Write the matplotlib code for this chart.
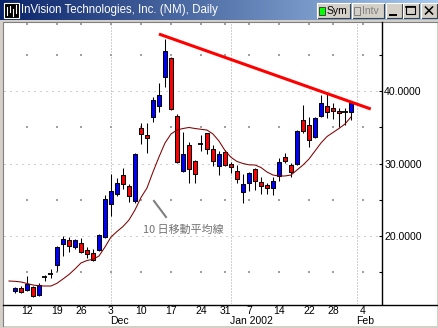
import matplotlib
matplotlib.use("Agg")
import matplotlib.pyplot as plt
from matplotlib.patches import Rectangle
from matplotlib import transforms
import numpy as np

# ---------------- data ----------------
calendar = [
    "2001-11-07", "2001-11-08", "2001-11-09", "2001-11-12", "2001-11-13", "2001-11-14",
    "2001-11-15", "2001-11-16", "2001-11-19", "2001-11-20", "2001-11-21", "2001-11-23",
    "2001-11-26", "2001-11-27", "2001-11-28", "2001-11-29", "2001-11-30",
    "2001-12-03", "2001-12-04", "2001-12-05", "2001-12-06", "2001-12-07", "2001-12-10",
    "2001-12-11", "2001-12-12", "2001-12-13", "2001-12-14", "2001-12-17", "2001-12-18",
    "2001-12-19", "2001-12-20", "2001-12-21", "2001-12-24", "2001-12-26", "2001-12-27",
    "2001-12-28", "2001-12-31",
    "2002-01-02", "2002-01-03", "2002-01-04", "2002-01-07", "2002-01-08", "2002-01-09",
    "2002-01-10", "2002-01-11", "2002-01-14", "2002-01-15", "2002-01-16", "2002-01-17",
    "2002-01-18", "2002-01-22", "2002-01-23", "2002-01-24", "2002-01-25", "2002-01-28",
    "2002-01-29", "2002-01-30", "2002-01-31",
    "2002-02-01", "2002-02-04",
]
candle_dates = calendar[1:58]
ma_dates = calendar[0:58]

opens = [12.41, 12.87, 12.55, 12.97, 11.90, 14.39, 14.80, 16.00, 18.85, 19.45,
         18.44, 19.08, 18.07, 17.61, 18.07, 19.90, 24.41, 25.79, 28.37, 26.94,
         24.87, 34.86, 33.89, 36.37, 37.97, 41.97, 44.51, 36.55, 29.01, 32.55,
         30.34, 32.65, 34.17, 31.96, 29.66, 31.63, 29.93, 29.01, 26.11, 27.27,
         29.20, 27.45, 27.00, 26.58, 28.28, 30.85, 29.86, 29.89, 36.00, 35.31,
         33.61, 36.55, 37.93, 37.61, 37.24, 37.06, 37.06]
highs = [13.01, 13.10, 14.52, 13.10, 13.56, 14.62, 15.41, 18.62, 20.00, 19.82,
         19.54, 19.77, 18.48, 18.25, 20.28, 25.66, 28.55, 28.00, 29.38, 27.17,
         31.41, 35.54, 35.54, 39.21, 41.06, 47.17, 44.65, 36.83, 34.39, 33.01,
         30.48, 33.93, 34.25, 32.55, 31.77, 31.86, 30.25, 29.79, 28.51, 28.87,
         29.42, 28.18, 27.27, 28.18, 30.72, 31.41, 30.11, 34.65, 38.07, 36.45,
         36.45, 39.45, 39.68, 38.39, 37.61, 37.61, 38.66]
lows = [12.18, 12.18, 12.45, 11.63, 11.72, 13.79, 14.17, 15.21, 17.24, 17.83,
        18.25, 17.61, 16.97, 16.62, 17.93, 19.77, 22.80, 25.56, 26.52, 24.73,
        24.59, 32.65, 31.49, 35.77, 37.14, 40.51, 37.38, 30.03, 28.87, 27.27,
        27.27, 31.77, 31.27, 29.65, 28.37, 29.66, 28.65, 27.31, 24.59, 26.21,
        26.34, 25.79, 25.79, 25.66, 27.63, 30.03, 28.18, 29.79, 34.17, 32.32,
        33.48, 36.45, 36.23, 36.10, 35.08, 35.31, 36.00]
closes = [12.87, 12.28, 13.34, 11.77, 13.20, 14.39, 14.80, 18.44, 19.59, 18.62,
          19.45, 17.75, 17.48, 16.72, 20.20, 25.06, 26.17, 27.27, 27.21, 25.48,
          31.27, 34.11, 33.48, 38.72, 39.45, 45.52, 37.48, 30.25, 31.31, 29.20,
          28.51, 32.65, 31.96, 30.39, 31.27, 29.75, 29.48, 27.82, 27.13, 28.65,
          27.63, 26.94, 26.62, 27.63, 30.17, 30.39, 28.83, 34.55, 34.48, 33.24,
          36.23, 38.30, 37.06, 37.28, 36.92, 37.06, 38.39]
ma10 = [13.79, 13.75, 13.66, 13.45, 13.24, 13.13, 13.10, 13.10, 13.48, 14.07,
        14.69, 15.45, 16.28, 16.62, 16.79, 17.24, 18.48, 19.86, 20.62, 21.31,
        22.21, 23.59, 25.31, 26.62, 28.83, 30.90, 32.83, 34.07, 34.62, 34.83,
        34.97, 34.83, 34.72, 34.62, 34.07, 33.10, 31.79, 30.86, 30.28, 30.00,
        29.82, 29.79, 29.45, 28.83, 28.41, 28.28, 28.28, 28.41, 29.10, 29.79,
        30.62, 31.72, 32.83, 33.72, 34.28, 34.83, 35.45, 36.41]

week_dates = ["2001-11-12", "2001-11-19", "2001-11-26", "2001-12-03", "2001-12-10",
              "2001-12-17", "2001-12-24", "2001-12-31", "2002-01-07", "2002-01-14",
              "2002-01-22", "2002-01-28", "2002-02-04"]
week_labels = ["12", "19", "26", "3", "10", "17", "24", "31", "7", "14", "22", "28", "4"]
month_dates = ["2001-12-03", "2002-01-02", "2002-02-01"]
month_labels = ["Dec", "Jan 2002", "Feb"]
y_major = [20, 30, 40]
y_minor = [15, 25, 35, 45]

trend_x = [25.0, 60.3]      # resistance line (calendar positions)
trend_y = [47.86, 37.52]
title = "InVision Technologies, Inc. (NM), Daily"
ma_label = "10 日移動平均線"

# ---------------- figure ----------------
W, H = 439, 328
fig = plt.figure(figsize=(W / 100, H / 100), dpi=100)
fig.patch.set_facecolor("#d4d0c8")

bg = fig.add_axes([0, 0, 1, 1], zorder=0)
bg.axis("off")

# title bar gradient
grad = np.linspace(0, 1, 256)
c0 = np.array([10, 36, 106]) / 255
c1 = np.array([166, 202, 240]) / 255
img = (c0[None, :] * (1 - grad[:, None]) + c1[None, :] * grad[:, None])[None, :, :]
bg.imshow(img, extent=(0, W, 20, 0), aspect="auto", interpolation="bilinear", zorder=1)
bg.set_xlim(0, W)
bg.set_ylim(H, 0)

# icon
bg.add_patch(Rectangle((4, 3), 15, 15, facecolor="black", edgecolor="white", lw=0.8, zorder=2))
for xx, y0, y1 in [(7, 7, 15), (10, 6, 12), (13, 9, 16), (16, 5, 13)]:
    bg.plot([xx, xx], [y0, y1], color="white", lw=0.8, zorder=3)
bg.text(21.5, 10.5, title, color="white", fontsize=8.3, family="Liberation Sans",
        va="center", ha="left", zorder=3)

def button(x0, x1, y0=3, y1=18):
    bg.add_patch(Rectangle((x0, y0), x1 - x0, y1 - y0, facecolor="#d4d0c8",
                           edgecolor="none", zorder=2))
    bg.plot([x0, x1, x1], [y1, y1, y0], color="#404040", lw=0.8, zorder=3)
    bg.plot([x0, x0, x1], [y1, y0, y0], color="white", lw=0.8, zorder=3)

button(317, 350)
bg.add_patch(Rectangle((319.5, 6.5), 6, 8, facecolor="#00ff00", edgecolor="#404040", lw=0.7, zorder=4))
bg.text(327, 11, "Sym", fontsize=7.5, family="Liberation Sans", va="center", ha="left", zorder=4)
button(352, 384)
bg.add_patch(Rectangle((354.5, 6.5), 6, 8, facecolor="#d4d0c8", edgecolor="#808080", lw=0.7, zorder=4))
bg.text(362, 11, "Intv", fontsize=7.5, family="Liberation Sans", color="#808080",
        va="center", ha="left", zorder=4)
button(386, 402)
bg.plot([390, 396], [15, 15], color="black", lw=1.4, zorder=4)
button(403, 419)
bg.add_patch(Rectangle((406.5, 6), 9, 8, facecolor="none", edgecolor="black", lw=0.8, zorder=4))
bg.plot([406.5, 415.5], [6.5, 6.5], color="black", lw=1.2, zorder=4)
button(421, 437)
bg.plot([425.5, 432.5], [7, 14], color="black", lw=1.1, zorder=4)
bg.plot([425.5, 432.5], [14, 7], color="black", lw=1.1, zorder=4)

# white chart panel with sunken border
bg.add_patch(Rectangle((3.5, 21.5), 434, 304, facecolor="white", edgecolor="none", zorder=1))
bg.plot([3.5, 3.5, 437.5], [325.5, 21.5, 21.5], color="#808080", lw=0.8, zorder=2)
bg.plot([3.5, 437.5], [304.5, 304.5], color="black", lw=1.0, zorder=2)

# ---------------- main axes ----------------
ax = fig.add_axes([4 / W, (H - 304) / H, (382 - 4) / W, (304 - 22) / H], zorder=2)
ax.patch.set_alpha(0)
ax.set_xlim(-0.83, 62.17)
ax.set_ylim(10.62, 49.52)
for s in ["top", "left", "bottom"]:
    ax.spines[s].set_visible(False)
ax.spines["right"].set_linewidth(1.0)

pos = {d: i for i, d in enumerate(calendar)}
cx = np.array([pos[d] for d in candle_dates])
mx = np.array([pos[d] for d in ma_dates])
wx = [pos[d] for d in week_dates]
monx = [pos[d] for d in month_dates]

grid_c = "#a0a0a0"
for yv in y_major:
    ax.axhline(yv, color=grid_c, lw=0.72, linestyle=(0, (1, 5)), zorder=1)
for xv in monx:
    ax.axvline(xv, color=grid_c, lw=0.72, linestyle=(0, (1, 2)), zorder=1)
gx, gy = np.meshgrid(wx, y_minor)
ax.scatter(gx.ravel(), gy.ravel(), s=0.6, marker="s", color=grid_c, lw=0, zorder=1)
ax.scatter(wx, [49.2] * len(wx), s=0.6, marker="s", color=grid_c, lw=0, zorder=1)

# candles
bw = 0.72
for x, o, h, l, c in zip(cx, opens, highs, lows, closes):
    ax.plot([x, x], [l, h], color="black", lw=0.75, zorder=3, solid_capstyle="butt")
    if abs(c - o) < 0.05:
        ax.plot([x - 0.42, x + 0.42], [o, o], color="black", lw=1.3, zorder=4, solid_capstyle="butt")
    else:
        col = "#0000ff" if c > o else "#ff0000"
        ax.add_patch(Rectangle((x - bw / 2, min(o, c)), bw, abs(c - o), facecolor=col,
                               edgecolor="black", lw=0.75, zorder=4))

# moving average
ax.plot(mx, ma10, color="#800000", lw=0.75, zorder=5)

# trend line
ax.plot(trend_x, trend_y, color="#ff0000", lw=2.2, zorder=6, solid_capstyle="butt")

# annotation
ax.plot([24.17, 26.17], [24.83, 22.62], color="#808080", lw=1.5, zorder=6)
ax.text(22.33, 20.83, ma_label, fontsize=7.9, color="#707070",
        family=["Noto Sans CJK JP", "DejaVu Sans"], ha="left", va="center", zorder=6)

# axes ticks
ax.yaxis.tick_right()
ax.set_yticks(y_major)
ax.set_yticklabels([f"{v:.4f}" for v in y_major], family="Liberation Sans", fontsize=7.6)
ax.set_yticks(y_minor, minor=True)
ax.tick_params(axis="y", which="both", direction="in", length=2.5, width=0.8, pad=1.5)
ax.set_xticks(wx)
ax.set_xticklabels(week_labels, family="Liberation Sans", fontsize=7.5)
ax.tick_params(axis="x", which="both", length=0, pad=1.8)

trans = transforms.blended_transform_factory(ax.transData, fig.transFigure)
for xv, lab in zip(monx, month_labels):
    ax.text(xv - 0.1, (H - 321) / H, lab, transform=trans, ha="left", va="center",
            fontsize=7.5, family="Liberation Sans", clip_on=False)

fig.savefig("out.png", dpi=100, facecolor=fig.get_facecolor())
